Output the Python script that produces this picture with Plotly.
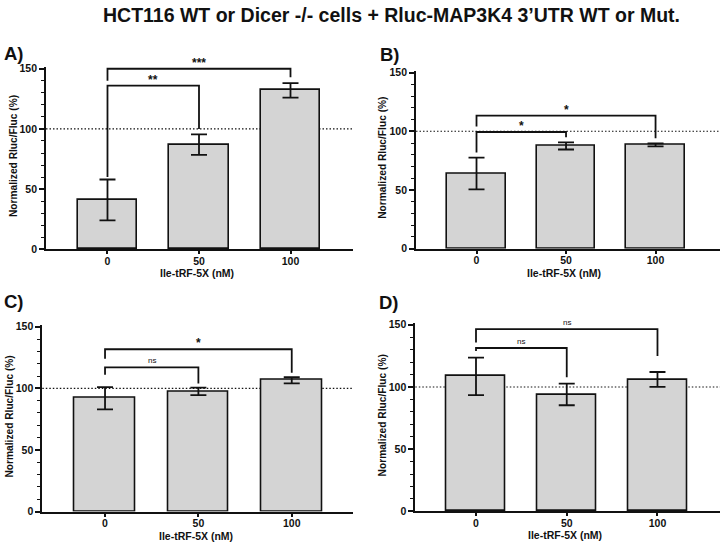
import plotly.graph_objects as go

# ---------------- data ----------------
categories = ["0", "50", "100"]
x_title = "Ile-tRF-5X (nM)"
y_title = "Normalized Rluc/Fluc (%)"
main_title = "HCT116 WT or Dicer -/- cells + Rluc-MAP3K4 3\u2019UTR WT or Mut."
panel_labels = ["A)", "B)", "C)", "D)"]

means_A = [41, 87, 132]
err_A = [17, 8.5, 6]
means_B = [64, 87.5, 88.5]
err_B = [13.5, 3, 1.3]
means_C = [92, 97.5, 106.5]
err_C = [9, 3, 2.5]
means_D = [108.5, 94, 106]
err_D = [15, 8.7, 6]

# brackets: (from index, to index, left leg end, top, right leg end, label)
brackets_A = [(0, 1, 60, 136, 100, "**"), (0, 2, 140, 150, 143, "***")]
brackets_B = [(0, 1, 82, 99.4, 95, "*"), (0, 2, 104, 113.3, 94, "*")]
brackets_C = [(0, 1, 111, 117, 104, "ns"), (0, 2, 124, 131.7, 112.6, "*")]
brackets_D = [(0, 1, 128.8, 131.3, 107.7, "ns"), (0, 2, 135.8, 146.5, 124.8, "ns")]

reference_level = 100
y_ticks = [0, 50, 100, 150]

panels = [
    (means_A, err_A, brackets_A),
    (means_B, err_B, brackets_B),
    (means_C, err_C, brackets_C),
    (means_D, err_D, brackets_D),
]

# ---------------- layout geometry (pixels of a 720x548 page) ----------------
W, H = 720, 548
# x domain px, x range, y domain px (bottom, top)
geom = [
    ((46, 353), (-0.672, 2.683), (249.3, 63.2)),
    ((416, 720), (-0.676, 2.72), (248.7, 67.2)),
    ((42.3, 352.7), (-0.672, 2.653), (517, 326.4)),
    ((415.3, 720), (-0.669, 2.689), (516.7, 324.4)),
]
label_pos = [(2, 50), (378, 51), (2, 303), (377, 304)]

FONT = "Liberation Sans, Arial, sans-serif"
BLACK = "#111111"

fig = go.Figure()
annotations = []
shapes = []

for i, (means, errs, brs) in enumerate(panels):
    n = i + 1
    xa = "x" if n == 1 else f"x{n}"
    ya = "y" if n == 1 else f"y{n}"
    xpos = list(range(len(categories)))
    fig.add_trace(go.Bar(
        x=xpos, y=means, xaxis=xa, yaxis=ya, width=0.65,
        marker=dict(color="#d4d4d4", line=dict(color=BLACK, width=1.6)),
        error_y=dict(type="data", array=errs, visible=True, color=BLACK,
                     thickness=1.8, width=8),
        showlegend=False, hoverinfo="skip",
    ))
    for (a, b, l_end, top, r_end, lab) in brs:
        fig.add_trace(go.Scatter(
            x=[a, a, b, b], y=[l_end, top, top, r_end], xaxis=xa, yaxis=ya,
            mode="lines", line=dict(color=BLACK, width=1.8),
            showlegend=False, hoverinfo="skip", cliponaxis=False,
        ))
        is_ns = lab == "ns"
        annotations.append(dict(
            x=(a + b) / 2, y=top, xref=xa, yref=ya, text=lab, showarrow=False,
            yanchor="bottom", yshift=(0 if is_ns else -3),
            font=dict(family=FONT, size=(8 if is_ns else 12), color=BLACK,
                      weight=("normal" if is_ns else "bold")),
        ))
    shapes.append(dict(
        type="line", xref=f"{xa} domain", yref=ya, x0=0, x1=1,
        y0=reference_level, y1=reference_level,
        line=dict(color=BLACK, width=1.1, dash="1.5px,2px"), layer="below",
    ))

    (xd0, xd1), xr, (yb, yt) = geom[i]
    axkey_x = "xaxis" if n == 1 else f"xaxis{n}"
    axkey_y = "yaxis" if n == 1 else f"yaxis{n}"
    fig.layout[axkey_x] = dict(
        domain=[xd0 / W, xd1 / W], range=list(xr), anchor=ya,
        tickvals=xpos, ticktext=categories, showline=True, linecolor=BLACK,
        linewidth=1.8, ticks="outside", ticklen=3, tickwidth=1.5, tickcolor=BLACK,
        ticklabelstandoff=-2,
        showgrid=False, zeroline=False, fixedrange=True,
        tickfont=dict(family=FONT, size=10.5, color=BLACK, weight="bold"),
    )
    fig.layout[axkey_y] = dict(
        domain=[1 - yb / H, 1 - yt / H], range=[0, 151.5], anchor=xa,
        tickvals=y_ticks, showline=True, linecolor=BLACK, linewidth=1.8,
        ticks="outside", ticklen=5, tickwidth=1.5, tickcolor=BLACK,
        minor=dict(dtick=10, tick0=0, ticks="outside", ticklen=3, tickwidth=1.2,
                   tickcolor=BLACK, showgrid=False),
        showgrid=False, zeroline=False, fixedrange=True,
        tickfont=dict(family=FONT, size=10.5, color=BLACK, weight="bold"),
    )
    # axis titles
    annotations.append(dict(
        x=0, y=0.5, xref=f"{xa} domain", yref=f"{ya} domain", xshift=-33, yshift=2,
        text=y_title, textangle=-90, showarrow=False, xanchor="center", yanchor="middle",
        font=dict(family=FONT, size=10.2, color=BLACK, weight="bold"),
    ))
    annotations.append(dict(
        x=1, y=0, xref=xa, yref=f"{ya} domain", xshift=-2, yshift=-24,
        text=x_title, showarrow=False, xanchor="center", yanchor="middle",
        font=dict(family=FONT, size=10.5, color=BLACK, weight="bold"),
    ))
    lx, ly = label_pos[i]
    annotations.append(dict(
        x=lx / W, y=1 - ly / H, xref="paper", yref="paper", text=panel_labels[i],
        showarrow=False, xanchor="left", yanchor="middle",
        font=dict(family=FONT, size=18.5, color=BLACK, weight="bold"),
    ))

annotations.append(dict(
    x=392 / W, y=1 - 10 / H, xref="paper", yref="paper", text=main_title,
    showarrow=False, xanchor="center", yanchor="middle",
    font=dict(family=FONT, size=19.5, color=BLACK, weight="bold"),
))

fig.update_layout(
    width=W, height=H, margin=dict(l=0, r=0, t=0, b=0),
    paper_bgcolor="white", plot_bgcolor="white",
    annotations=annotations, shapes=shapes, bargap=0,
    font=dict(family=FONT, color=BLACK),
)

fig.write_html("out.html", config={"displayModeBar": False},
               post_script="document.body.style.margin='0';")
